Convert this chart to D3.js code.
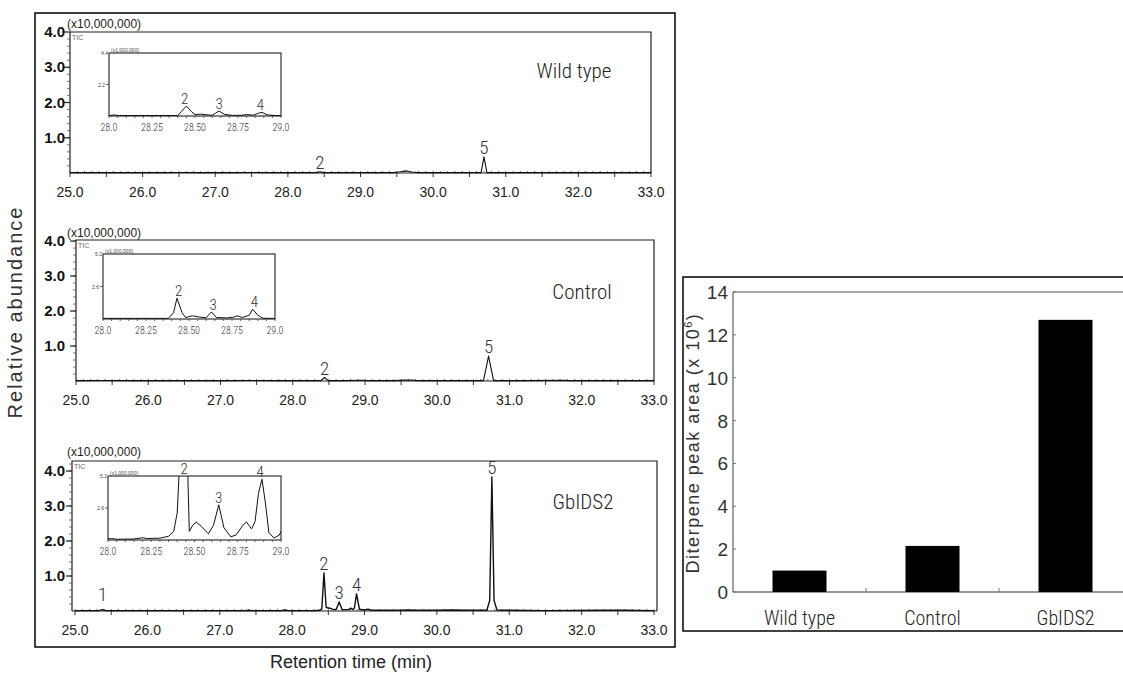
<!DOCTYPE html>
<html><head><meta charset="utf-8">
<script src="https://cdn.jsdelivr.net/npm/d3@7"></script>
<style>body{margin:0;background:#fff}svg{display:block}</style>
</head><body><svg id="c" width="1123" height="673"></svg>
<script>
// ---------------- DATA ----------------
const retentionTicks = [25, 26, 27, 28, 29, 30, 31, 32, 33];
const abundanceTicks = [1, 2, 3, 4];
const insetTicks = [28.0, 28.25, 28.5, 28.75, 29.0];
const insetTickLabels = ["28.0", "28.25", "28.50", "28.75", "29.0"];
const sampleNames = ["Wild type", "Control", "GbIDS2"];

// main chromatograms: [retention time (min), abundance (x10,000,000)]
const wildTypeTrace = [[25.0,0.012],[25.3,0.01],[25.45,0.014],[25.6,0.01],[26.0,0.012],[26.3,0.01],[26.5,0.013],[26.8,0.01],[27.2,0.012],[27.5,0.014],[27.8,0.01],[28.2,0.011],[28.4,0.01],[28.44,0.035],[28.49,0.01],[28.65,0.015],[28.9,0.01],[29.2,0.012],[29.45,0.01],[29.55,0.035],[29.62,0.06],[29.7,0.03],[29.8,0.01],[30.2,0.01],[30.5,0.012],[30.66,0.01],[30.7,0.46],[30.74,0.01],[31.0,0.012],[31.5,0.01],[32.0,0.012],[32.5,0.01],[33.0,0.01]];
const controlTrace = [[25.0,0.012],[25.4,0.015],[25.8,0.01],[26.2,0.012],[26.6,0.01],[27.0,0.012],[27.4,0.014],[27.8,0.01],[28.2,0.012],[28.39,0.01],[28.44,0.1],[28.49,0.012],[28.7,0.01],[28.95,0.02],[29.05,0.01],[29.4,0.01],[29.55,0.025],[29.65,0.03],[29.72,0.01],[30.2,0.01],[30.64,0.01],[30.71,0.71],[30.78,0.01],[31.2,0.01],[31.75,0.02],[31.85,0.01],[32.5,0.01],[33.0,0.01]];
const gbids2Trace = [[25.0,0.01],[25.33,0.01],[25.38,0.04],[25.43,0.01],[26.0,0.01],[26.5,0.012],[27.0,0.01],[27.35,0.01],[27.4,0.02],[27.45,0.01],[27.85,0.01],[27.9,0.03],[27.95,0.01],[28.3,0.012],[28.38,0.02],[28.41,0.06],[28.44,1.09],[28.47,0.1],[28.52,0.08],[28.57,0.04],[28.61,0.05],[28.65,0.26],[28.69,0.04],[28.78,0.04],[28.81,0.08],[28.84,0.04],[28.86,0.08],[28.89,0.49],[28.93,0.05],[29.0,0.03],[29.05,0.05],[29.1,0.02],[29.5,0.02],[29.6,0.03],[29.7,0.02],[30.0,0.02],[30.2,0.03],[30.4,0.02],[30.69,0.02],[30.73,0.3],[30.76,3.83],[30.79,0.3],[30.83,0.03],[30.9,0.02],[31.0,0.02],[31.5,0.01],[32.3,0.02],[32.6,0.02],[33.0,0.01]];

// insets (28.0-29.0 min), abundance (x1,000,000)
const wildTypeInset = [[28.0,0.03],[28.03,0.07],[28.06,0.03],[28.4,0.03],[28.42,0.3],[28.45,0.7],[28.48,0.3],[28.5,0.1],[28.53,0.13],[28.57,0.08],[28.6,0.05],[28.62,0.2],[28.64,0.35],[28.67,0.12],[28.72,0.04],[28.77,0.05],[28.8,0.1],[28.84,0.06],[28.87,0.2],[28.89,0.25],[28.92,0.08],[28.97,0.03],[29.0,0.03]];
const controlInset = [[28.0,0.05],[28.38,0.05],[28.41,0.5],[28.43,1.66],[28.46,0.5],[28.48,0.12],[28.52,0.26],[28.56,0.15],[28.6,0.1],[28.63,0.57],[28.66,0.12],[28.72,0.08],[28.76,0.15],[28.78,0.26],[28.81,0.12],[28.85,0.3],[28.87,0.78],[28.9,0.3],[28.93,0.06],[29.0,0.05]];
const gbids2Inset = [[28.0,0.08],[28.02,0.12],[28.05,0.06],[28.15,0.08],[28.2,0.18],[28.23,0.12],[28.3,0.15],[28.35,0.3],[28.38,0.7],[28.4,2.2],[28.42,8],[28.44,10.9],[28.46,6],[28.47,0.7],[28.49,1.2],[28.51,1.46],[28.54,1.1],[28.58,0.5],[28.61,1.2],[28.64,2.86],[28.67,1.0],[28.71,0.26],[28.74,0.4],[28.78,1.2],[28.8,1.46],[28.83,0.9],[28.85,1.5],[28.87,3.8],[28.89,4.94],[28.91,3.0],[28.93,0.6],[28.96,0.16],[28.99,0.4],[29.0,0.7]];

// peak labels: [label, retention time]
const wildTypePeaks = [["2",28.44],["5",30.7]];
const controlPeaks = [["2",28.44],["5",30.71]];
const gbids2Peaks = [["1",25.38],["2",28.44],["3",28.65],["4",28.89],["5",30.76]];
const insetPeakLabels = [["2",28.44],["3",28.64],["4",28.88]];
const insetScaleTop = [4.4, 5.2, 5.2];
const insetScaleMid = [2.2, 2.6, 2.6];

// bar chart
const barCategories = ["Wild type", "Control", "GbIDS2"];
const barValues = [1.0, 2.15, 12.7];
const barTicks = [0, 2, 4, 6, 8, 10, 12, 14];

// ---------------- LAYOUT ----------------
const svg = d3.select("#c");
const narrow = "'Roboto Condensed','Liberation Sans Narrow','Arial Narrow','Liberation Sans',Arial,sans-serif";
const sans = "'Liberation Sans',Arial,Helvetica,sans-serif";
const light = "300";

// outer frame of chromatograms
svg.append("rect").attr("x",35).attr("y",13).attr("width",640).attr("height",634)
  .attr("fill","none").attr("stroke","#111").attr("stroke-width",1.6);

const panelCfg = [
  {left:70, right:651, x0:70, x1:651, top:32, bottom:173, ymax:4.0, unitY:28, nameX:574, nameY:78,
   inset:{left:109, right:281, top:53, bottom:116}},
  {left:76, right:654, x0:76, x1:654, top:240, bottom:381, ymax:4.03, unitY:237, nameX:582, nameY:299,
   inset:{left:103, right:275, top:254, bottom:319}},
  {left:72, right:657, x0:75, x1:654, top:461, bottom:611, ymax:4.286, unitY:456, nameX:583, nameY:509,
   inset:{left:108, right:281, top:476, bottom:540}}
];
const traces = [wildTypeTrace, controlTrace, gbids2Trace];
const insets = [wildTypeInset, controlInset, gbids2Inset];
const peaks = [wildTypePeaks, controlPeaks, gbids2Peaks];

function apexNear(data, rt, w) {
  return d3.max(data.filter(d => Math.abs(d[0]-rt) <= w), d => d[1]);
}

panelCfg.forEach((cfg, i) => {
  const g = svg.append("g");
  const x = d3.scaleLinear().domain([25,33]).range([cfg.x0, cfg.x1]);
  const y = d3.scaleLinear().domain([0,cfg.ymax]).range([cfg.bottom, cfg.top]);

  // box
  g.append("path").attr("d",`M${cfg.left},${cfg.bottom}V${cfg.top}H${cfg.right}V${cfg.bottom}`)
    .attr("fill","none").attr("stroke","#222").attr("stroke-width",1.2);
  g.append("line").attr("x1",cfg.left).attr("x2",cfg.right).attr("y1",cfg.bottom).attr("y2",cfg.bottom)
    .attr("stroke","#222").attr("stroke-width",1.2);

  // x ticks
  g.selectAll(".xm").data(d3.range(25,33.001,0.5)).join("line")
    .attr("x1",d=>x(d)).attr("x2",d=>x(d)).attr("y1",cfg.bottom).attr("y2",cfg.bottom+4)
    .attr("stroke","#333").attr("stroke-width",1);
  g.selectAll(".xn").data(d3.range(25,33.001,0.1)).join("line")
    .attr("x1",d=>x(d)).attr("x2",d=>x(d)).attr("y1",cfg.bottom).attr("y2",cfg.bottom-2)
    .attr("stroke","#555").attr("stroke-width",0.8);
  g.selectAll(".xl").data(retentionTicks).join("text")
    .attr("x",d=>x(d)).attr("y",cfg.bottom+24).attr("text-anchor","middle")
    .attr("font-family",sans).attr("font-size",14).attr("fill","#222")
    .text(d=>d.toFixed(1));

  // y ticks
  g.selectAll(".yn").data(d3.range(0.2,cfg.ymax,0.2)).join("line")
    .attr("x1",cfg.left-3).attr("x2",cfg.left).attr("y1",d=>y(d)).attr("y2",d=>y(d))
    .attr("stroke","#555").attr("stroke-width",0.8);
  g.selectAll(".ym").data(abundanceTicks).join("line")
    .attr("x1",cfg.left-6).attr("x2",cfg.left).attr("y1",d=>y(d)).attr("y2",d=>y(d))
    .attr("stroke","#222").attr("stroke-width",1.2);
  g.selectAll(".yl").data(abundanceTicks).join("text")
    .attr("x",65).attr("y",d=>y(d)+5).attr("text-anchor","end")
    .attr("font-family",sans).attr("font-weight","bold").attr("font-size",15).attr("fill","#111")
    .text(d=>d.toFixed(1));

  g.append("text").attr("x",67).attr("y",cfg.unitY).attr("font-family",sans).attr("font-size",12)
    .attr("fill","#222").text("(x10,000,000)");
  g.append("text").attr("x",cfg.left+2).attr("y",cfg.top+8).attr("font-family",sans).attr("font-size",7)
    .attr("fill","#666").text("TIC");

  // trace
  const line = d3.line().x(d=>x(d[0])).y(d=>y(d[1]));
  g.append("path").datum(traces[i]).attr("d",line).attr("fill","none")
    .attr("stroke","#111").attr("stroke-width",i===2?1.4:1.1).attr("stroke-linejoin","round");

  // peak labels
  g.selectAll(".pk").data(peaks[i]).join("text")
    .attr("x",d=>x(d[1])).attr("y",d=>y(apexNear(traces[i],d[1],0.05))-(d[0]==="1"?9:3))
    .attr("text-anchor","middle").attr("font-family",narrow).attr("font-weight",light)
    .attr("font-size",19).attr("fill","#333")
    .text(d=>d[0]);

  // sample name
  g.append("text").attr("x",cfg.nameX).attr("y",cfg.nameY).attr("text-anchor","middle")
    .attr("font-family",narrow).attr("font-weight",light).attr("font-size",21).attr("fill","#222").text(sampleNames[i]);

  // inset
  const ic = cfg.inset;
  const ix = d3.scaleLinear().domain([28,29]).range([ic.left, ic.right]);
  const iy = d3.scaleLinear().domain([0, insetScaleTop[i]]).range([ic.bottom, ic.top]);
  const clipId = "clip"+i;
  g.append("clipPath").attr("id",clipId).append("rect")
    .attr("x",ic.left).attr("y",ic.top).attr("width",ic.right-ic.left).attr("height",ic.bottom-ic.top);
  g.append("rect").attr("x",ic.left).attr("y",ic.top).attr("width",ic.right-ic.left).attr("height",ic.bottom-ic.top)
    .attr("fill","#fff").attr("stroke","#222").attr("stroke-width",1.1);
  g.selectAll(".it").data(d3.range(28,29.001,0.05)).join("line")
    .attr("x1",d=>ix(d)).attr("x2",d=>ix(d)).attr("y1",ic.bottom).attr("y2",ic.bottom+2)
    .attr("stroke","#444").attr("stroke-width",0.8);
  g.selectAll(".il").data(insetTicks).join("text")
    .attr("x",d=>ix(d)).attr("y",ic.bottom+15).attr("text-anchor","middle")
    .attr("font-family",narrow).attr("font-weight",light).attr("font-size",10).attr("fill","#333")
    .text((d,k)=>insetTickLabels[k]);
  g.append("line").attr("x1",ic.left-3).attr("x2",ic.left).attr("y1",iy(insetScaleMid[i])).attr("y2",iy(insetScaleMid[i]))
    .attr("stroke","#444").attr("stroke-width",0.8);
  g.append("text").attr("x",ic.left-4).attr("y",iy(insetScaleMid[i])+2).attr("text-anchor","end")
    .attr("font-family",sans).attr("font-size",5).attr("fill","#444").text(insetScaleMid[i].toFixed(1));
  g.append("text").attr("x",ic.left-1).attr("y",ic.top+2).attr("text-anchor","end")
    .attr("font-family",sans).attr("font-size",5).attr("fill","#444").text(insetScaleTop[i].toFixed(1));
  g.append("text").attr("x",ic.left+2).attr("y",ic.top-1)
    .attr("font-family",sans).attr("font-size",5).attr("fill","#444").text("(x1,000,000)");
  const iline = d3.line().x(d=>ix(d[0])).y(d=>iy(d[1]));
  g.append("path").datum(insets[i]).attr("d",iline).attr("clip-path",`url(#${clipId})`)
    .attr("fill","none").attr("stroke","#111").attr("stroke-width",1).attr("stroke-linejoin","round");
  g.selectAll(".ipk").data(insetPeakLabels).join("text")
    .attr("x",d=>ix(d[1]))
    .attr("y",d=>Math.max(iy(apexNear(insets[i],d[1],0.03)), ic.top)-2)
    .attr("text-anchor","middle").attr("font-family",narrow).attr("font-weight",light)
    .attr("font-size",15).attr("fill","#333")
    .text(d=>d[0]);
});

// axis titles
svg.append("text").attr("transform","translate(22,312) rotate(-90)").attr("text-anchor","middle")
  .attr("font-family",sans).attr("font-size",20).attr("letter-spacing",2).attr("fill","#333")
  .text("Relative abundance");
svg.append("text").attr("x",351).attr("y",668).attr("text-anchor","middle")
  .attr("font-family",sans).attr("font-size",18).attr("fill","#222")
  .text("Retention time (min)");

// ---------------- BAR CHART ----------------
const bg = svg.append("g");
bg.append("rect").attr("x",683).attr("y",277).attr("width",460).attr("height",354)
  .attr("fill","none").attr("stroke","#111").attr("stroke-width",1.6);
const bx = d3.scaleBand().domain(barCategories).range([733,1132]).paddingInner(0.594).paddingOuter(0.297);
const by = d3.scaleLinear().domain([0,14]).range([592,292]);
bg.append("line").attr("x1",733).attr("x2",1123).attr("y1",292).attr("y2",292).attr("stroke","#888").attr("stroke-width",1.4);
bg.append("line").attr("x1",733).attr("x2",1123).attr("y1",592).attr("y2",592).attr("stroke","#777").attr("stroke-width",1.4);
bg.append("line").attr("x1",733).attr("x2",733).attr("y1",292).attr("y2",592).attr("stroke","#777").attr("stroke-width",1.4);
bg.selectAll(".bt").data(barTicks).join("line")
  .attr("x1",733).attr("x2",736).attr("y1",d=>by(d)).attr("y2",d=>by(d)).attr("stroke","#777");
bg.selectAll(".btl").data(barTicks).join("text")
  .attr("x",728).attr("y",d=>by(d)+7).attr("text-anchor","end")
  .attr("font-family",sans).attr("font-size",19).attr("fill","#333").text(d=>d);
bg.selectAll(".sep").data(barCategories.slice(1)).join("line")
  .attr("x1",d=>bx(d)-bx.step()*bx.paddingInner()/2).attr("x2",d=>bx(d)-bx.step()*bx.paddingInner()/2)
  .attr("y1",592).attr("y2",588).attr("stroke","#777");
bg.selectAll(".bar").data(barValues).join("rect")
  .attr("x",(d,k)=>bx(barCategories[k])).attr("width",bx.bandwidth())
  .attr("y",d=>by(d)).attr("height",d=>592-by(d)).attr("fill","#000");
bg.selectAll(".bxl").data(barCategories).join("text")
  .attr("x",d=>bx(d)+bx.bandwidth()/2).attr("y",625).attr("text-anchor","middle")
  .attr("font-family",narrow).attr("font-weight",light).attr("font-size",20).attr("fill","#222").text(d=>d);
const yt = bg.append("text").attr("transform","translate(699,443) rotate(-90)").attr("text-anchor","middle")
  .attr("font-family",sans).attr("font-size",18).attr("letter-spacing",1.5).attr("fill","#333");
yt.append("tspan").text("Diterpene peak area (x 10");
yt.append("tspan").attr("dy",-7).attr("font-size",11).text("6");
yt.append("tspan").attr("dy",7).text(")");
</script></body></html>
